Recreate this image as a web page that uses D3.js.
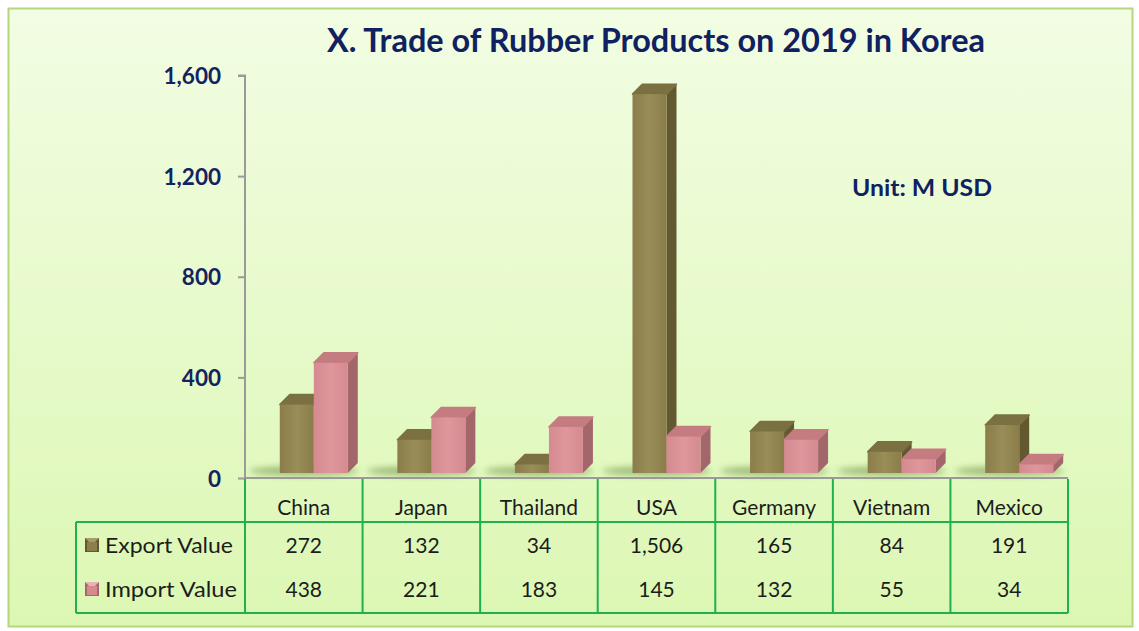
<!DOCTYPE html>
<html><head><meta charset="utf-8">
<script src="https://cdn.jsdelivr.net/npm/d3@7"></script>
<style>html,body{margin:0;padding:0;background:#fff;}svg{display:block;}</style>
</head><body>
<svg id="chart" width="1139" height="631"></svg>
<script>
const categories = ["China","Japan","Thailand","USA","Germany","Vietnam","Mexico"];
const exportValues = [272,132,34,1506,165,84,191];
const importValues = [438,221,183,145,132,55,34];
const exportLabels = ["272","132","34","1,506","165","84","191"];
const importLabels = ["438","221","183","145","132","55","34"];
const seriesNames = ["Export Value","Import Value"];
const yTicks = [0,400,800,1200,1600];
const titleText = "X. Trade of Rubber Products on 2019 in Korea";
const unitText = "Unit: M USD";

const svg = d3.select("#chart");
const defs = svg.append("defs");
const bg = defs.append("linearGradient").attr("id","bg").attr("x1",0).attr("y1",0).attr("x2",0).attr("y2",1);
bg.append("stop").attr("offset","0%").attr("stop-color","#f2fde3");
bg.append("stop").attr("offset","100%").attr("stop-color","#dcf7b3");
const blur = defs.append("filter").attr("id","blur").attr("x","-50%").attr("y","-200%").attr("width","200%").attr("height","500%");
blur.append("feGaussianBlur").attr("stdDeviation",3);

function grad(id, c1, c2){
  const g = defs.append("linearGradient").attr("id",id).attr("x1",0).attr("y1",0).attr("x2",1).attr("y2",0);
  g.append("stop").attr("offset","0%").attr("stop-color",c1);
  g.append("stop").attr("offset","50%").attr("stop-color",c2);
  g.append("stop").attr("offset","100%").attr("stop-color",c1);
}
grad("expFront","#8a7d4a","#998d58");
grad("impFront","#d48a90","#df979c");

svg.append("rect").attr("x",0).attr("y",0).attr("width",1139).attr("height",631).attr("fill","#ffffff");
svg.append("rect").attr("x",8.5).attr("y",8.5).attr("width",1124).attr("height",618)
  .attr("fill","url(#bg)").attr("stroke","#b4d67c").attr("stroke-width",2);

const left = 245, right = 1068;
const y = d3.scaleLinear().domain([0,1600]).range([478,75.5]);
const x = d3.scaleBand().domain(categories).range([left,right]).padding(0);

svg.append("text").attr("x",656).attr("y",52).attr("text-anchor","middle")
  .attr("font-family","Lato, 'Open Sans', sans-serif").attr("font-weight","bold")
  .attr("font-size",32).attr("fill","#0f2161")
  .attr("textLength",658).attr("lengthAdjust","spacingAndGlyphs").text(titleText);

svg.append("text").attr("x",852).attr("y",196)
  .attr("font-family","Lato, 'Open Sans', sans-serif").attr("font-weight","bold")
  .attr("font-size",23).attr("fill","#0f2161")
  .attr("textLength",140).attr("lengthAdjust","spacingAndGlyphs").text(unitText);

// y axis
const yAxis = d3.axisLeft(y).tickValues(yTicks).tickSize(7).tickPadding(17).tickFormat(d3.format(","));
const ga = svg.append("g").attr("transform",`translate(${left},0)`).call(yAxis);
ga.select(".domain").attr("stroke","#9a9a9a").attr("stroke-width",2).attr("d",`M-7,${y(1600)}H0V${y(0)}`);
ga.selectAll(".tick line").attr("stroke","#9a9a9a").attr("stroke-width",2);
ga.selectAll(".tick text").attr("font-family","Lato, 'Open Sans', sans-serif").attr("font-weight","bold")
  .attr("font-size",22.5).attr("fill","#13235f").attr("dy","0.36em");

// bars
const bw = 34, dx = 10, dy = -10, lift = 5;
const series = [
  {vals: exportValues, front:"url(#expFront)", side:"#625931", top:"#7a7041", off:-bw},
  {vals: importValues, front:"url(#impFront)", side:"#a3676b", top:"#c47c81", off:0}
];
const gBars = svg.append("g");
categories.forEach((c,i)=>{
  const cx = x(c) + x.bandwidth()/2 + 10;
  gBars.append("ellipse").attr("cx",cx-10).attr("cy",y(0)-7).attr("rx",54).attr("ry",5)
    .attr("fill","#76964c").attr("opacity",0.6).attr("filter","url(#blur)");
});
categories.forEach((c,i)=>{
  const cx = x(c) + x.bandwidth()/2 + 10;
  series.forEach(s=>{
    const x0 = cx + s.off, x1 = x0 + bw;
    const yt = y(s.vals[i]) - lift, yb = y(0) - lift;
    const g = gBars.append("g");
    g.append("path").attr("d",`M${x1},${yb}L${x1+dx},${yb+dy}L${x1+dx},${yt+dy}L${x1},${yt}Z`).attr("fill",s.side);
    g.append("path").attr("d",`M${x0},${yt}L${x0+dx},${yt+dy}L${x1+dx},${yt+dy}L${x1},${yt}Z`).attr("fill",s.top)
      .attr("stroke",s.top).attr("stroke-width",1.5).attr("stroke-linejoin","round");
    g.append("rect").attr("x",x0).attr("y",yt).attr("width",bw).attr("height",yb-yt).attr("fill",s.front);
  });
});

// x axis line
svg.append("line").attr("x1",left).attr("x2",right).attr("y1",y(0)).attr("y2",y(0))
  .attr("stroke","#9a9a9a").attr("stroke-width",2);

// data table
const rowTop = 522, rowBot = 613, tableLeft = 76;
const green = "#1fb050";
const tg = svg.append("g").attr("stroke",green).attr("stroke-width",2).attr("fill","none");
tg.append("path").attr("d",`M${tableLeft},${rowTop}H${right}M${tableLeft},${rowBot}H${right}M${tableLeft},${rowTop}V${rowBot}`);
[...categories.map(c=>x(c)), right].forEach(v=>{
  tg.append("line").attr("x1",v).attr("x2",v).attr("y1",y(0)+1).attr("y2",rowBot);
});

const font = "Lato, 'Open Sans', sans-serif";
svg.append("g").selectAll("text").data(categories).join("text")
  .attr("x",d=>x(d)+x.bandwidth()/2).attr("y",515).attr("text-anchor","middle")
  .attr("font-family",font).attr("font-size",21).attr("fill","#1c1c1c").text(d=>d);
svg.append("g").selectAll("text").data(exportLabels).join("text")
  .attr("x",(d,i)=>x(categories[i])+x.bandwidth()/2).attr("y",553).attr("text-anchor","middle")
  .attr("font-family",font).attr("font-size",21).attr("fill","#1c1c1c").text(d=>d);
svg.append("g").selectAll("text").data(importLabels).join("text")
  .attr("x",(d,i)=>x(categories[i])+x.bandwidth()/2).attr("y",597).attr("text-anchor","middle")
  .attr("font-family",font).attr("font-size",21).attr("fill","#1c1c1c").text(d=>d);

// legend keys
const keyCols = [{front:"#8c7f4c",side:"#625931",top:"#a89c68"},{front:"#d58a90",side:"#a3676b",top:"#eab0b4"}];
seriesNames.forEach((n,i)=>{
  const cy = i===0 ? 545 : 589;
  const k = svg.append("g").attr("transform",`translate(85,${cy-7})`);
  k.append("rect").attr("width",14).attr("height",14).attr("fill",keyCols[i].side);
  k.append("path").attr("d","M0,0L14,0L7,7Z").attr("fill",keyCols[i].top);
  k.append("rect").attr("x",2).attr("y",4).attr("width",10).attr("height",9).attr("fill",keyCols[i].front);
  svg.append("text").attr("x",105).attr("y",cy+8).attr("font-family",font).attr("font-size",21)
    .attr("fill","#1c1c1c").attr("textLength",i===0?128:132).attr("lengthAdjust","spacingAndGlyphs").text(n);
});
</script>
</body></html>
